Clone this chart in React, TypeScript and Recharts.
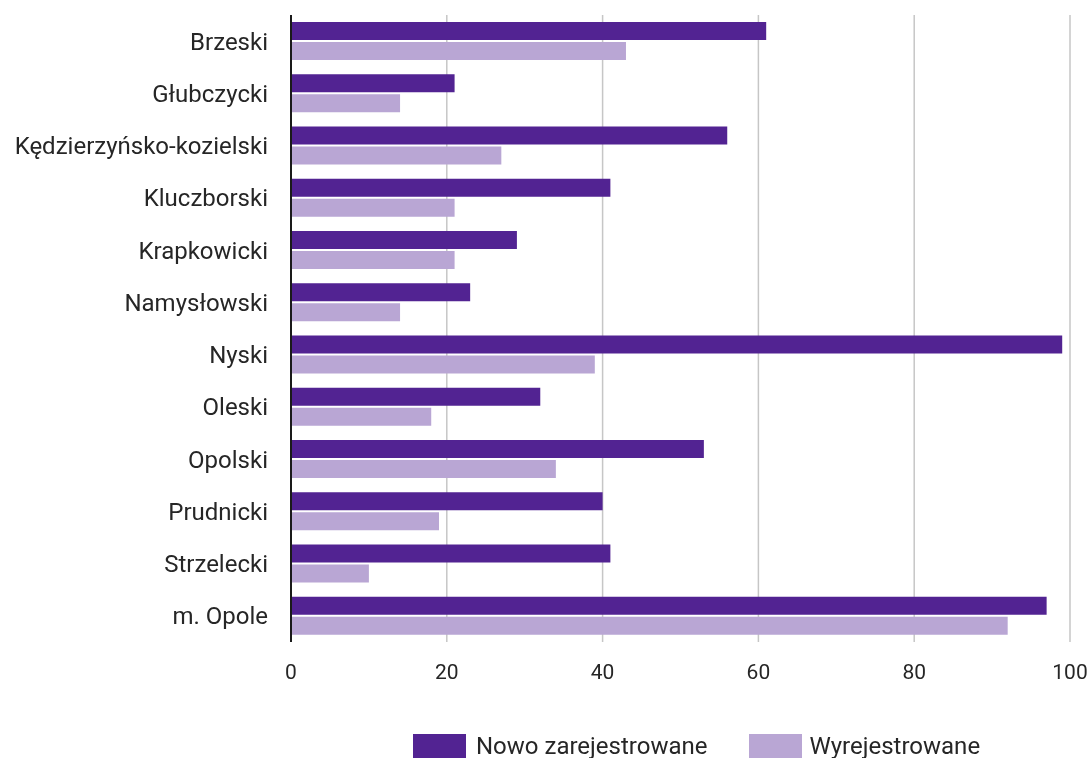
import React from 'react';
import { BarChart, Bar, XAxis, YAxis, CartesianGrid, Legend } from 'recharts';

const categories = ['Brzeski', 'Głubczycki', 'Kędzierzyńsko-kozielski', 'Kluczborski', 'Krapkowicki', 'Namysłowski', 'Nyski', 'Oleski', 'Opolski', 'Prudnicki', 'Strzelecki', 'm. Opole'];
const nowoZarejestrowane = [61, 21, 56, 41, 29, 23, 99, 32, 53, 40, 41, 97];
const wyrejestrowane = [43, 14, 27, 21, 21, 14, 39, 18, 34, 19, 10, 92];
const xTicks = [0, 20, 40, 60, 80, 100];

const seriesNames = ['Nowo zarejestrowane', 'Wyrejestrowane'];
const colors = ['#522392', '#b9a6d4'];

const data = categories.map((name, i) => ({
  name,
  nowo: nowoZarejestrowane[i],
  wyrej: wyrejestrowane[i],
}));

const FONT = 'Roboto, "Noto Sans", sans-serif';
const TEXT = '#262626';

const renderLegend = (props: any) => {
  const payload = props.payload || [];
  return (
    <div style={{ height: 40, paddingLeft: 413, paddingTop: 16, boxSizing: 'border-box', display: 'flex', alignItems: 'flex-start', fontFamily: FONT }}>
      {payload.map((p: any, i: number) => (
        <div key={i} style={{ display: 'flex', alignItems: 'center', marginRight: 42 }}>
          <div style={{ width: 53, height: 24, background: p.color, marginRight: i === 0 ? 10 : 7 }} />
          <span style={{ fontSize: 24, lineHeight: '24px', color: TEXT }}>{p.value}</span>
        </div>
      ))}
    </div>
  );
};

export default function App() {
  return (
    <div style={{ position: 'fixed', left: 0, top: 0, width: 1091, height: 758 }}>
      <BarChart
        width={1091}
        height={758}
        data={data}
        layout="vertical"
        margin={{ top: 15, right: 21, left: 0, bottom: 0 }}
        barSize={18}
        barGap={2}
      >
        <CartesianGrid horizontal={false} vertical={true} stroke="#c6c6c6" strokeWidth={1.5} />
        <XAxis
          type="number"
          domain={[0, 100]}
          ticks={xTicks}
          axisLine={false}
          tickLine={false}
          tickSize={0}
          tickMargin={22}
          height={76}
          tick={{ fill: TEXT, fontSize: 21, fontFamily: FONT }}
        />
        <YAxis
          type="category"
          dataKey="name"
          width={291}
          axisLine={{ stroke: '#1a1a1a', strokeWidth: 2 }}
          tickLine={false}
          tickSize={0}
          tickMargin={23}
          interval={0}
          tick={{ fill: TEXT, fontSize: 24, fontFamily: FONT }}
        />
        <Legend
          verticalAlign="bottom"
          content={renderLegend}
          wrapperStyle={{ left: 0, width: 1091 }}
        />
        <Bar dataKey="nowo" name={seriesNames[0]} fill={colors[0]} isAnimationActive={false} />
        <Bar dataKey="wyrej" name={seriesNames[1]} fill={colors[1]} isAnimationActive={false} />
      </BarChart>
    </div>
  );
}
